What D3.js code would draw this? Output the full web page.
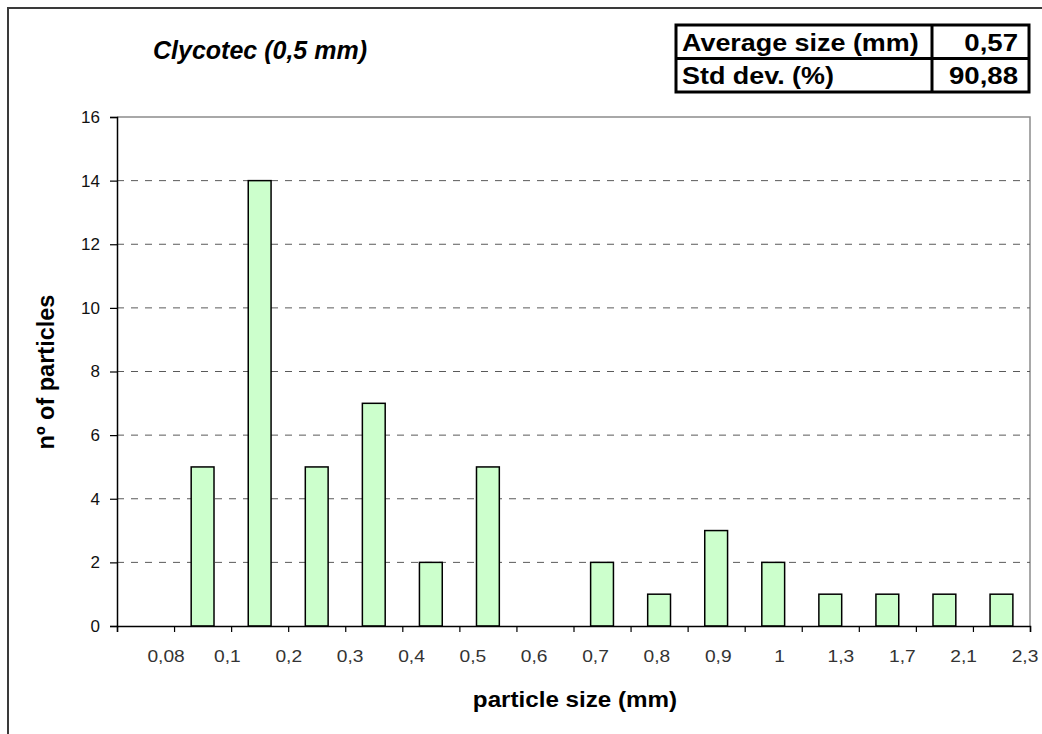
<!DOCTYPE html>
<html>
<head>
<meta charset="utf-8">
<script src="https://cdn.jsdelivr.net/npm/d3@7"></script>
<style>
  body { margin: 0; background: #fff; }
  svg { display: block; font-family: Arial, "Liberation Sans", sans-serif; }
</style>
</head>
<body>
<div id="chart"></div>
<script>
(function () {

	'use strict';

	// size classes (bins) and counts
	var bins = ['<0,08', '0,08-0,1', '0,1-0,2', '0,2-0,3', '0,3-0,4', '0,4-0,5', '0,5-0,6', '0,6-0,7',
		'0,7-0,8', '0,8-0,9', '0,9-1', '1-1,3', '1,3-1,7', '1,7-2,1', '2,1-2,3', '>2,3'];
	var counts = [0, 5, 14, 5, 7, 2, 5, 0, 2, 1, 3, 2, 1, 1, 1, 1];
	var tickLabels = ['0,08', '0,1', '0,2', '0,3', '0,4', '0,5', '0,6', '0,7', '0,8', '0,9', '1', '1,3', '1,7', '2,1', '2,3'];
	var yTicks = [0, 2, 4, 6, 8, 10, 12, 14, 16];
	var statNames = ['Average size (mm)', 'Std dev. (%)'];
	var statValues = ['0,57', '90,88'];

	var width = 1042, height = 734;
	var plot = { left: 117, right: 1030, top: 117, bottom: 626 };

	var svg = d3.select('#chart')
		.append('svg')
		.attr('width', width)
		.attr('height', height);

	// outer chart frame (runs off the right/bottom of the picture)
	svg.append('rect')
		.attr('x', 8).attr('y', 8)
		.attr('width', width + 40).attr('height', height + 40)
		.attr('fill', 'none')
		.attr('stroke', '#3a3a3a')
		.attr('stroke-width', 2);

	var x = d3.scaleBand()
		.domain(bins)
		.range([plot.left, plot.right])
		.paddingInner(0.6)
		.paddingOuter(0.3);

	var xEdge = d3.scaleLinear()
		.domain([0, bins.length])
		.range([plot.left, plot.right]);

	var y = d3.scaleLinear()
		.domain([0, 16])
		.range([plot.bottom, plot.top]);

	// plot area border (grey top / right)
	svg.append('path')
		.attr('d', 'M' + plot.left + ',' + y(16) + 'H' + plot.right + 'V' + plot.bottom)
		.attr('fill', 'none')
		.attr('stroke', '#8c8c8c')
		.attr('stroke-width', 1.5);

	// dashed gridlines
	svg.append('g')
		.selectAll('line')
		.data(yTicks.filter(function (d) { return d > 0 && d < 16; }))
		.enter()
		.append('line')
		.attr('x1', plot.left)
		.attr('x2', plot.right)
		.attr('y1', function (d) { return y(d); })
		.attr('y2', function (d) { return y(d); })
		.attr('stroke', '#5a5a5a')
		.attr('stroke-width', 1)
		.style('stroke-dasharray', '7, 7');

	// bars
	svg.append('g')
		.selectAll('rect')
		.data(bins.map(function (b, i) { return { bin: b, n: counts[i] }; })
			.filter(function (d) { return d.n > 0; }))
		.enter()
		.append('rect')
		.attr('x', function (d) { return x(d.bin); })
		.attr('y', function (d) { return y(d.n); })
		.attr('width', x.bandwidth())
		.attr('height', function (d) { return y(0) - y(d.n); })
		.attr('fill', '#ccffcc')
		.attr('stroke', '#000')
		.attr('stroke-width', 1.5);

	// y axis
	var yAxis = svg.append('g')
		.attr('transform', 'translate(' + plot.left + ',0)')
		.call(d3.axisLeft(y).tickValues(yTicks).tickSize(7).tickPadding(10));
	yAxis.select('.domain').attr('stroke', '#000').attr('stroke-width', 1.5);
	yAxis.selectAll('.tick line').attr('stroke', '#000').attr('stroke-width', 1.2);
	yAxis.selectAll('.tick text')
		.attr('font-size', 17)
		.attr('font-family', 'Arial, "Liberation Sans", sans-serif')
		.attr('fill', '#111');

	// x axis: ticks on class edges
	var xAxis = svg.append('g')
		.attr('transform', 'translate(0,' + plot.bottom + ')')
		.call(d3.axisBottom(xEdge).tickValues(d3.range(bins.length + 1)).tickSize(6).tickFormat(''));
	xAxis.select('.domain').attr('stroke', '#000').attr('stroke-width', 1.5);
	xAxis.selectAll('.tick line').attr('stroke', '#000').attr('stroke-width', 1.2);

	// x tick labels, spread like the original rendering
	var xLab = d3.scalePoint()
		.domain(tickLabels)
		.range([xEdge(1) - 8, xEdge(bins.length) - 5]);

	svg.append('g')
		.selectAll('text')
		.data(tickLabels)
		.enter()
		.append('text')
		.attr('transform', function (d) { return 'translate(' + xLab(d) + ',' + (plot.bottom + 36) + ') scale(1.2,1)'; })
		.attr('text-anchor', 'middle')
		.attr('font-size', 16)
		.attr('fill', '#333')
		.text(function (d) { return d; });

	// titles
	svg.append('text')
		.attr('x', 153).attr('y', 59)
		.attr('font-size', 25)
		.attr('font-weight', 'bold')
		.attr('font-style', 'italic')
		.text('Clycotec (0,5 mm)');

	svg.append('text')
		.attr('transform', 'translate(575,707) scale(1.1,1)')
		.attr('text-anchor', 'middle')
		.attr('font-size', 22)
		.attr('font-weight', 'bold')
		.text('particle size (mm)');

	svg.append('text')
		.attr('transform', 'translate(54,372) rotate(-90)')
		.attr('text-anchor', 'middle')
		.attr('font-size', 23.5)
		.attr('font-weight', 'bold')
		.text('nº of particles');

	// stats table
	var tbl = { left: 676, mid: 932, right: 1029, top: 25, row: 33.5 };
	var tg = svg.append('g');
	tg.append('rect')
		.attr('x', tbl.left).attr('y', tbl.top)
		.attr('width', tbl.right - tbl.left)
		.attr('height', tbl.row * statNames.length)
		.attr('fill', '#fff')
		.attr('stroke', '#000')
		.attr('stroke-width', 3);
	tg.append('line')
		.attr('x1', tbl.mid).attr('x2', tbl.mid)
		.attr('y1', tbl.top).attr('y2', tbl.top + tbl.row * statNames.length)
		.attr('stroke', '#000').attr('stroke-width', 3);
	tg.append('line')
		.attr('x1', tbl.left).attr('x2', tbl.right)
		.attr('y1', tbl.top + tbl.row).attr('y2', tbl.top + tbl.row)
		.attr('stroke', '#000').attr('stroke-width', 3);

	statNames.forEach(function (name, i) {
		var base = tbl.top + tbl.row * (i + 1) - 8;
		tg.append('text')
			.attr('transform', 'translate(' + (tbl.left + 6) + ',' + base + ') scale(1.17,1)')
			.attr('font-size', 23)
			.attr('font-weight', 'bold')
			.text(name);
		tg.append('text')
			.attr('transform', 'translate(' + (tbl.right - 11) + ',' + base + ') scale(1.2,1)')
			.attr('text-anchor', 'end')
			.attr('font-size', 23)
			.attr('font-weight', 'bold')
			.text(statValues[i]);
	});

})();
</script>
</body>
</html>
